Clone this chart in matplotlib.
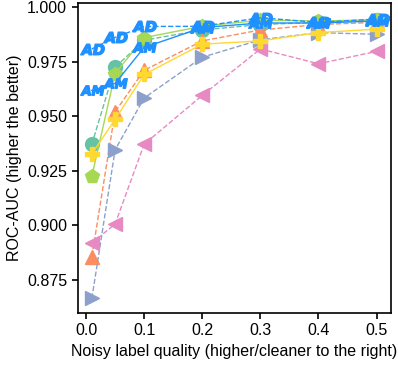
import matplotlib
matplotlib.use("Agg")
import matplotlib.pyplot as plt
from matplotlib.textpath import TextPath
from matplotlib.font_manager import FontProperties
from matplotlib.path import Path
import numpy as np

plt.rcParams['font.family'] = ['Liberation Sans', 'DejaVu Sans']

quality = [0.01, 0.05, 0.1, 0.2, 0.3, 0.4, 0.5]

teal_circle = [0.9371, 0.9724, 0.9848, 0.9895, 0.9920, 0.9930, 0.9940]
orange_tri = [0.8856, 0.9520, 0.9710, 0.9845, 0.9895, 0.9920, 0.9930]
blue_right = [0.8664, 0.9345, 0.9583, 0.9770, 0.9850, 0.9883, 0.9875]
pink_left = [0.8918, 0.9005, 0.9371, 0.9595, 0.9808, 0.9740, 0.9797]
green_pent = [0.9224, 0.9695, 0.9860, 0.9912, 0.9940, 0.9936, 0.9942]
yellow_plus = [0.9327, 0.9485, 0.9691, 0.9830, 0.9845, 0.9883, 0.9899]
ad_vals = [0.9808, 0.9861, 0.9911, 0.9912, 0.9951, 0.9930, 0.9945]
am_vals = [0.9618, 0.9650, 0.9815, 0.9906, 0.9927, 0.9927, 0.9936]

def text_marker(s):
    fp = FontProperties(family='DejaVu Sans', weight='bold', style='italic')
    tp = TextPath((0, 0), s, prop=fp, size=10)
    v = tp.vertices.copy()
    mn = v.min(axis=0); mx = v.max(axis=0)
    v = v - (mn + mx) / 2
    return Path(v, tp.codes)

fig = plt.figure(figsize=(3.98, 3.67), dpi=100)
ax = fig.add_axes([0.195, 0.147, 0.787, 0.845])

ms = 10
ax.plot(quality, teal_circle, color='#66c2a5', ls='--', lw=1, marker='o', ms=ms)
ax.plot(quality, orange_tri, color='#fc8d62', ls='--', lw=1, marker='^', ms=ms)
ax.plot(quality, blue_right, color='#8da0cb', ls='--', lw=1, marker='>', ms=ms)
ax.plot(quality, pink_left, color='#e78ac3', ls='--', lw=1, marker='<', ms=ms)
ax.plot(quality, green_pent, color='#a6d854', ls='-', lw=1, marker='p', ms=ms)
ax.plot(quality, yellow_plus, color='#ffd92f', ls='-', lw=1, marker='P', ms=ms)
ax.plot(quality, ad_vals, color='#1e90ff', ls='--', lw=1, marker=text_marker('AD'), ms=17)
ax.plot(quality, am_vals, color='#1e90ff', ls='-', lw=1, marker=text_marker('AM'), ms=17)

ax.set_xticks([0.0, 0.1, 0.2, 0.3, 0.4, 0.5])
ax.set_yticks([0.875, 0.900, 0.925, 0.950, 0.975, 1.000])
ax.set_xlim(-0.0145, 0.5245)
ax.set_ylim(0.8597, 1.0019)
ax.tick_params(labelsize=11.5, length=4, width=1.2)
for sp in ax.spines.values():
    sp.set_linewidth(1.2)
ax.set_xlabel('Noisy label quality (higher/cleaner to the right)', fontsize=11.5)
ax.set_ylabel('ROC-AUC (higher the better)', fontsize=11.5)

fig.savefig('out.png', dpi=100)
